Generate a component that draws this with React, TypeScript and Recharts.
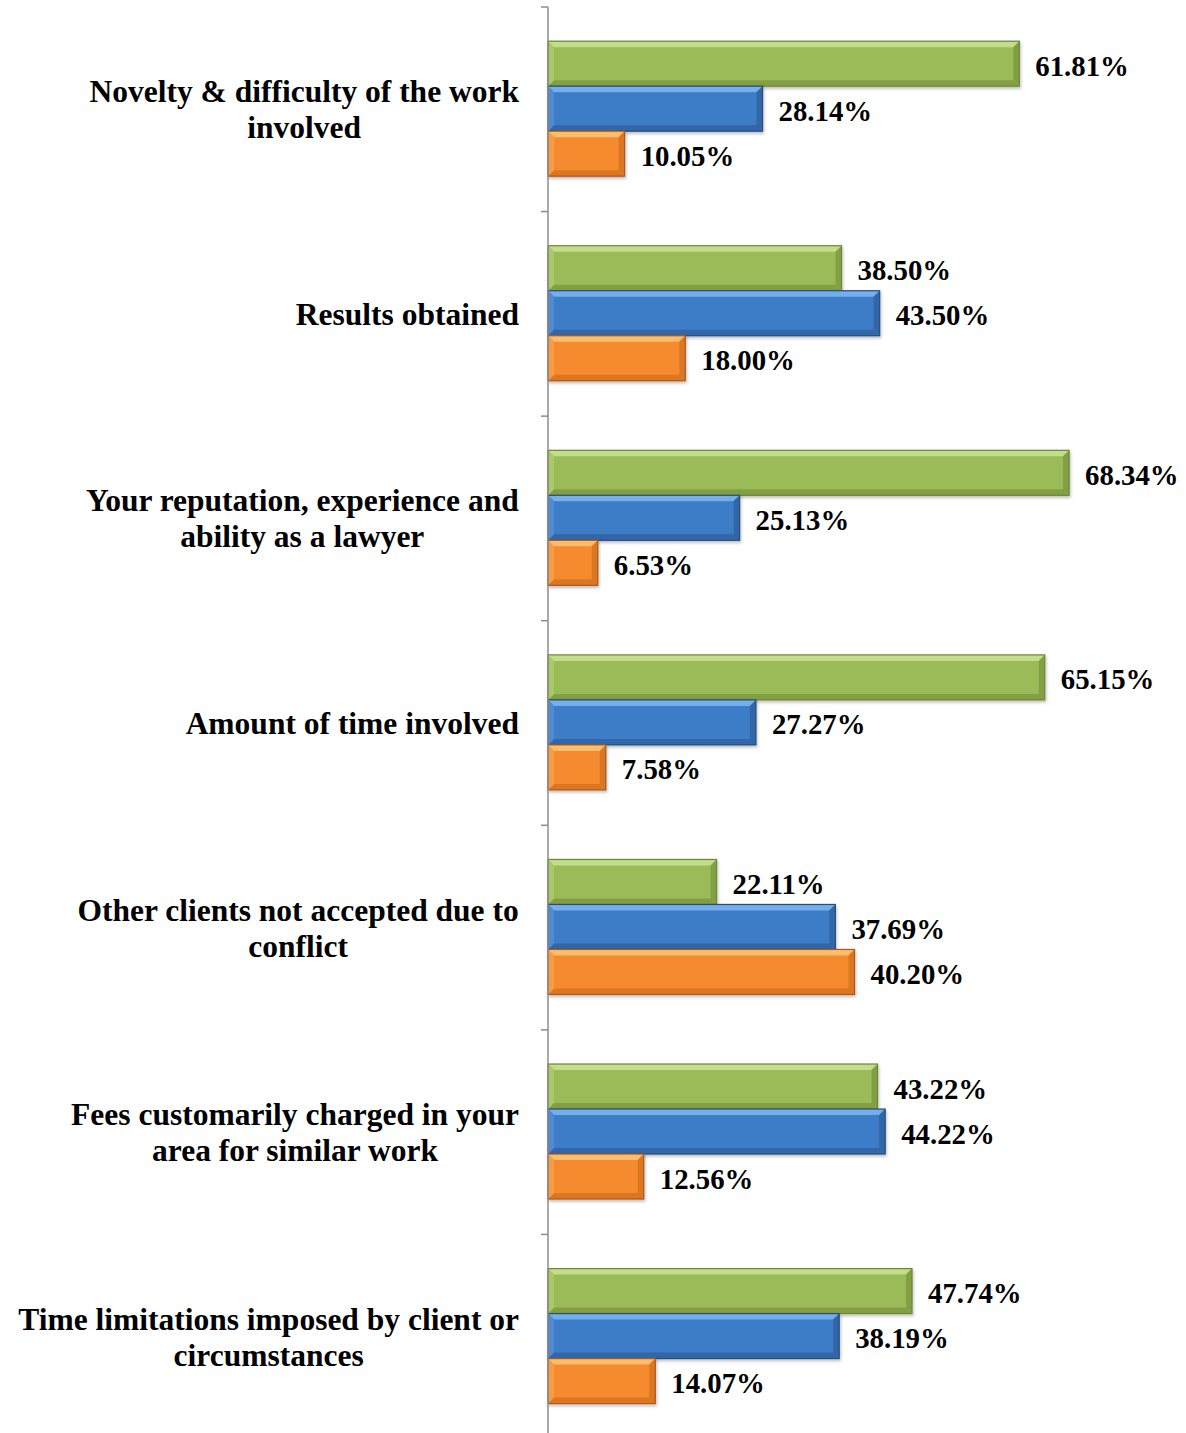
import { BarChart, Bar, XAxis, YAxis, LabelList } from "recharts"

const categories = [
  "Novelty & difficulty of the work\ninvolved",
  "Results obtained",
  "Your reputation, experience and\nability as a lawyer",
  "Amount of time involved",
  "Other clients not accepted due to\nconflict",
  "Fees customarily charged in your\narea for similar work",
  "Time limitations imposed by client or\ncircumstances",
]

const greenValues = [61.81, 38.5, 68.34, 65.15, 22.11, 43.22, 47.74]
const blueValues = [28.14, 43.5, 25.13, 27.27, 37.69, 44.22, 38.19]
const orangeValues = [10.05, 18.0, 6.53, 7.58, 40.2, 12.56, 14.07]

const chartData = categories.map((name, i) => ({
  name,
  green: greenValues[i],
  blue: blueValues[i],
  orange: orangeValues[i],
}))

const FONT = '"Liberation Serif", "Times New Roman", serif'
const CHART_W = 1186
const CHART_H = 1440
const MARGIN = { top: 7, right: 28, left: 0, bottom: 1 }
const AXIS_X = 548
const BAND = (CHART_H - MARGIN.top - MARGIN.bottom) / categories.length
const CAT_FONT_SIZE = 31.5
const VAL_FONT_SIZE = 28.8
const AXIS_COLOR = "#8c8c8c"

interface Palette {
  main: string
  light: string
  side: string
  dark: string
  border: string
}

const PALETTES: Record<string, Palette> = {
  green: { main: "#9bbb59", light: "#c3de8a", side: "#a9c867", dark: "#839f45", border: "#6c8836" },
  blue: { main: "#3d7bc7", light: "#74aeec", side: "#4f8ad3", dark: "#3366a6", border: "#2a4d7c" },
  orange: { main: "#f58b2d", light: "#fdbd6c", side: "#f89b45", dark: "#dc7622", border: "#a65a1c" },
}

const makeBevel = (p: Palette) => (props: any) => {
  const { x, y, width, height } = props
  if (!width || width <= 0) return null
  const b = Math.min(6, width / 2)
  const x2 = x + width
  const y2 = y + height
  return (
    <g filter="url(#barShadow)">
      <rect x={x} y={y} width={width} height={height} fill={p.main} />
      <polygon points={`${x},${y} ${x2},${y} ${x2 - b},${y + b} ${x + b},${y + b}`} fill={p.light} />
      <polygon points={`${x},${y2} ${x2},${y2} ${x2 - b},${y2 - b} ${x + b},${y2 - b}`} fill={p.dark} />
      <polygon points={`${x},${y} ${x + b},${y + b} ${x + b},${y2 - b} ${x},${y2}`} fill={p.side} />
      <polygon points={`${x2},${y} ${x2 - b},${y + b} ${x2 - b},${y2 - b} ${x2},${y2}`} fill={p.dark} />
      <rect x={x} y={y} width={width} height={height} fill="none" stroke={p.border} strokeWidth={1.2} />
    </g>
  )
}

const ValueLabel = (props: any) => {
  const { x, y, width, height, value } = props
  return (
    <text
      x={x + width + 16}
      y={y + height / 2 + 2}
      dominantBaseline="central"
      fontFamily={FONT}
      fontWeight="bold"
      fontSize={VAL_FONT_SIZE}
      fill="#000"
    >
      {`${Number(value).toFixed(2)}%`}
    </text>
  )
}

let measureCtx: CanvasRenderingContext2D | null = null
const measureText = (s: string) => {
  if (!measureCtx) measureCtx = document.createElement("canvas").getContext("2d")
  if (!measureCtx) return s.length * CAT_FONT_SIZE * 0.5
  measureCtx.font = `bold ${CAT_FONT_SIZE}px ${FONT}`
  return measureCtx.measureText(s).width
}

// category label: block right-aligned, lines centred within it; ticks sit on band edges
const CategoryTick = (props: any) => {
  const { y, payload, index } = props
  const lines: string[] = String(payload.value).split("\n")
  const lineHeight = 36
  const startY = y - ((lines.length - 1) * lineHeight) / 2
  const right = AXIS_X - 29
  const blockW = Math.max(...lines.map(measureText))
  const cx = right - blockW / 2
  return (
    <g>
      <line x1={AXIS_X - 7} x2={AXIS_X} y1={y - BAND / 2} y2={y - BAND / 2} stroke={AXIS_COLOR} strokeWidth={1.5} />
      {index === categories.length - 1 && (
        <line x1={AXIS_X - 7} x2={AXIS_X} y1={y + BAND / 2} y2={y + BAND / 2} stroke={AXIS_COLOR} strokeWidth={1.5} />
      )}
      <text fontFamily={FONT} fontWeight="bold" fontSize={CAT_FONT_SIZE} fill="#000" dominantBaseline="central">
        {lines.map((line, i) => (
          <tspan key={i} x={cx} y={startY + i * lineHeight} textAnchor="middle">
            {line}
          </tspan>
        ))}
      </text>
    </g>
  )
}

export default function App() {
  return (
    <div style={{ position: "fixed", left: 0, top: 0, width: 1186, height: 1433, overflow: "hidden", background: "#fff" }}>
      <BarChart
        width={CHART_W}
        height={CHART_H}
        data={chartData}
        layout="vertical"
        margin={MARGIN}
        barCategoryGap="16.7%"
        barGap={0}
      >
        <defs>
          <filter id="barShadow" x="-5%" y="-20%" width="110%" height="150%">
            <feDropShadow dx="1" dy="2" stdDeviation="1.5" floodColor="#000" floodOpacity="0.25" />
          </filter>
        </defs>
        <XAxis type="number" domain={[0, 80]} hide />
        <YAxis
          type="category"
          dataKey="name"
          width={AXIS_X}
          axisLine={{ stroke: AXIS_COLOR, strokeWidth: 1.5 }}
          tickLine={false}
          tickSize={7}
          tick={<CategoryTick />}
          interval={0}
        />
        <Bar dataKey="green" isAnimationActive={false} shape={makeBevel(PALETTES.green)}>
          <LabelList dataKey="green" content={<ValueLabel />} />
        </Bar>
        <Bar dataKey="blue" isAnimationActive={false} shape={makeBevel(PALETTES.blue)}>
          <LabelList dataKey="blue" content={<ValueLabel />} />
        </Bar>
        <Bar dataKey="orange" isAnimationActive={false} shape={makeBevel(PALETTES.orange)}>
          <LabelList dataKey="orange" content={<ValueLabel />} />
        </Bar>
      </BarChart>
    </div>
  )
}
